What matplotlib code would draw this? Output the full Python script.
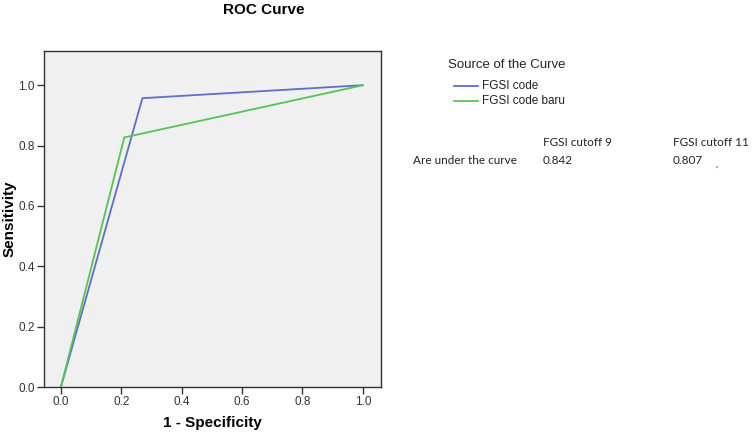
import matplotlib
matplotlib.use('Agg')
from matplotlib import pyplot as plt
from matplotlib.lines import Line2D

# ROC data
fpr_code = [0.0, 0.27, 1.0]
tpr_code = [0.0, 0.957, 1.0]
fpr_baru = [0.0, 0.21, 1.0]
tpr_baru = [0.0, 0.827, 1.0]
series_names = ['FGSI code', 'FGSI code baru']
table_cols = ['FGSI cutoff 9', 'FGSI cutoff 11']
table_row = 'Are under the curve'
auc_values = ['0.842', '0.807']
ticks = [0.0, 0.2, 0.4, 0.6, 0.8, 1.0]

blue = '#5b6fc9'
green = '#55c454'

plt.rcParams['font.family'] = ['Liberation Sans', 'DejaVu Sans']

fig = plt.figure(figsize = (7.53, 4.33), dpi = 100)
ax = fig.add_axes([0.0584, 0.106, 0.4475, 0.776])
ax.set_facecolor('#f0f0f0')

ax.plot(fpr_code, tpr_code, color = blue, lw = 1.3)
ax.plot(fpr_baru, tpr_baru, color = green, lw = 1.3)

ax.set_xlim(-0.056, 1.06)
ax.set_ylim(0, 1.113)
ax.set_xticks(ticks)
ax.set_yticks(ticks)
ax.set_xticklabels([f'{t:.1f}' for t in ticks], fontsize = 8.5, color = '#333333')
ax.set_yticklabels([f'{t:.1f}' for t in ticks], fontsize = 8.5, color = '#333333')
ax.tick_params(direction = 'out', length = 5, width = 1, color = '#333333', pad = 1.5)
for s in ax.spines.values():
    s.set_color('#333333')
    s.set_linewidth(1)

ax.set_xlabel('1 - Specificity', fontsize = 11, fontweight = 'bold')
ax.set_ylabel('Sensitivity', fontsize = 11, fontweight = 'bold')
ax.xaxis.set_label_coords(0.5, -29 / 336)
ax.yaxis.set_label_coords(-27 / 337, 0.5)
fig.text(264 / 753, 1 - 10 / 433, 'ROC Curve', fontsize = 11, fontweight = 'bold',
         ha = 'center', va = 'center')

# legend drawn by hand
fig.text(448 / 753, 1 - 65 / 433, 'Source of the Curve', fontsize = 9.5,
         ha = 'left', va = 'center', color = '#222222')
for i, (name, c) in enumerate(zip(series_names, [blue, green])):
    y = 1 - (86 + 15 * i) / 433
    fig.add_artist(Line2D([454 / 753, 478 / 753], [y, y], color = c, lw = 1.3,
                          transform = fig.transFigure))
    fig.text(482 / 753, y, name, fontsize = 8.5, ha = 'left', va = 'center',
             color = '#222222')

# AUC table
tfont = ['Lato', 'DejaVu Sans']
col_x = [543, 673]
for cx, col, val in zip(col_x, table_cols, auc_values):
    fig.text(cx / 753, 1 - 143 / 433, col, fontsize = 8.5, family = tfont,
             ha = 'left', va = 'center', color = '#222222')
    fig.text(cx / 753, 1 - 160 / 433, val, fontsize = 8.5, family = tfont,
             ha = 'left', va = 'center', color = '#222222')
fig.text(413 / 753, 1 - 160 / 433, table_row, fontsize = 8.5, family = tfont,
         ha = 'left', va = 'center', color = '#222222')
fig.text(716 / 753, 1 - 170 / 433, "'", fontsize = 7, family = tfont,
         ha = 'center', va = 'center', color = '#222222')

fig.savefig('out.png', dpi = 100)
